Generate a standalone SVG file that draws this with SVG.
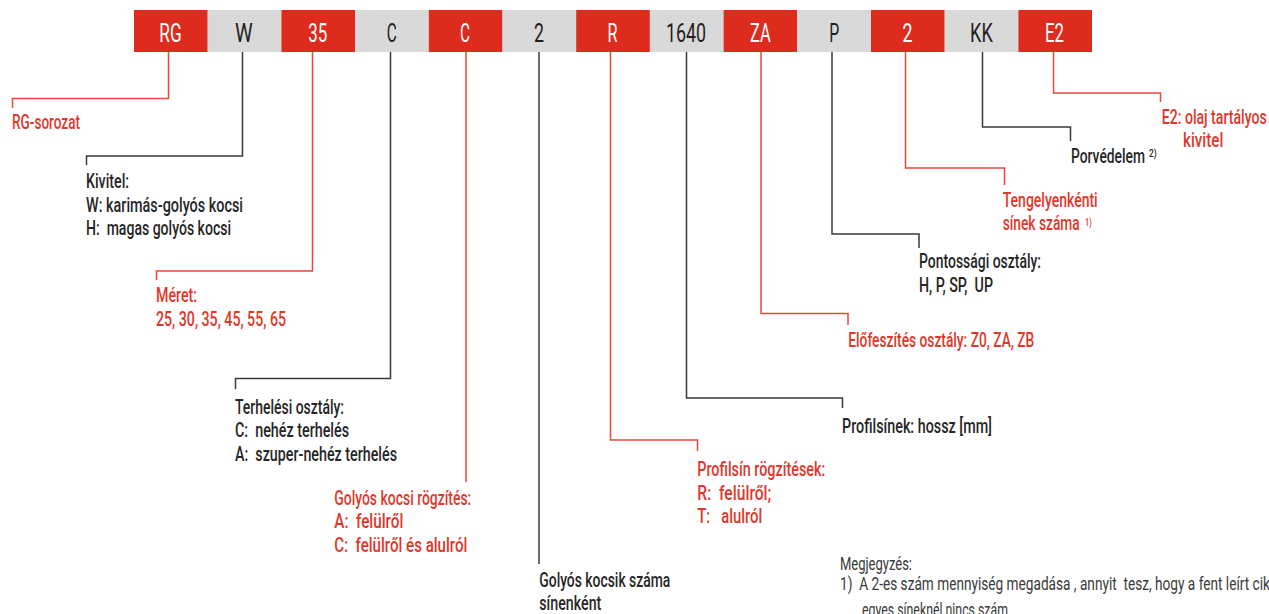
<svg xmlns="http://www.w3.org/2000/svg" width="1269" height="614" viewBox="0 0 1269 614">
  <style>
    text { font-family: Roboto, "DejaVu Sans Condensed", "Liberation Sans", sans-serif; white-space: pre; }
    .code { font-size: 25px; text-anchor: middle; font-weight: 400; }
    .code-r { fill: #ffffff; }
    .code-g { fill: #1e1e1e; }
    .box-r { fill: #dd2c1e; }
    .box-g { fill: #d9d9d9; }
    .lbl { font-size: 20px; font-weight: 500; }
    .dark { fill: #262626; }
    .red { fill: #e0372b; }
    .sup { font-size: 11.5px; font-weight: 500; }
    .note { font-size: 18px; font-weight: 400; fill: #3a3a3a; }
    .ln-d { fill: none; stroke: #3a3a3a; stroke-width: 1.5; }
    .ln-r { fill: none; stroke: #e8473c; stroke-width: 1.5; }
  </style>

  <!-- code bar -->
  <g id="code-bar">
    <rect class="box-r" x="134" y="10" width="73.7" height="42"/>
    <rect class="box-g" x="207.7" y="10" width="73.7" height="42"/>
    <rect class="box-r" x="281.4" y="10" width="73.7" height="42"/>
    <rect class="box-g" x="355.1" y="10" width="73.7" height="42"/>
    <rect class="box-r" x="428.8" y="10" width="73.7" height="42"/>
    <rect class="box-g" x="502.5" y="10" width="73.7" height="42"/>
    <rect class="box-r" x="576.2" y="10" width="73.7" height="42"/>
    <rect class="box-g" x="649.9" y="10" width="73.7" height="42"/>
    <rect class="box-r" x="723.6" y="10" width="73.7" height="42"/>
    <rect class="box-g" x="797.3" y="10" width="73.7" height="42"/>
    <rect class="box-r" x="871" y="10" width="73.7" height="42"/>
    <rect class="box-g" x="944.7" y="10" width="73.7" height="42"/>
    <rect class="box-r" x="1018.4" y="10" width="73.6" height="42"/>
    <text class="code code-r" x="170.5" y="42" textLength="22.3" lengthAdjust="spacingAndGlyphs">RG</text>
    <text class="code code-g" x="243.9" y="42" textLength="17.7" lengthAdjust="spacingAndGlyphs">W</text>
    <text class="code code-r" x="317.8" y="42" textLength="19" lengthAdjust="spacingAndGlyphs">35</text>
    <text class="code code-g" x="391.7" y="42" textLength="10" lengthAdjust="spacingAndGlyphs">C</text>
    <text class="code code-r" x="465" y="42" textLength="10" lengthAdjust="spacingAndGlyphs">C</text>
    <text class="code code-g" x="539" y="42" textLength="10" lengthAdjust="spacingAndGlyphs">2</text>
    <text class="code code-r" x="612.5" y="42" textLength="10" lengthAdjust="spacingAndGlyphs">R</text>
    <text class="code code-g" x="686" y="42" textLength="40" lengthAdjust="spacingAndGlyphs">1640</text>
    <text class="code code-r" x="760.4" y="42" textLength="20.7" lengthAdjust="spacingAndGlyphs">ZA</text>
    <text class="code code-g" x="834.3" y="42" textLength="10" lengthAdjust="spacingAndGlyphs">P</text>
    <text class="code code-r" x="907.5" y="42" textLength="10" lengthAdjust="spacingAndGlyphs">2</text>
    <text class="code code-g" x="981.4" y="42" textLength="22.7" lengthAdjust="spacingAndGlyphs">KK</text>
    <text class="code code-r" x="1054.5" y="42" textLength="19" lengthAdjust="spacingAndGlyphs">E2</text>
  </g>

  <!-- leader lines from each code field -->
  <g id="connectors">
    <path class="ln-r" d="M168.5 52 V98.5 H12.5 V108"/>
    <path class="ln-d" d="M242.5 52 V156 H86.5 V165"/>
    <path class="ln-r" d="M312.5 52 V271 H156.5 V280"/>
    <path class="ln-d" d="M390.5 52 V378.5 H235.5 V389"/>
    <path class="ln-r" d="M466 52 V482"/>
    <path class="ln-d" d="M539 52 V564"/>
    <path class="ln-r" d="M610.5 52 V440 H697.5 V451"/>
    <path class="ln-d" d="M686.5 52 V398 H842.5 V408"/>
    <path class="ln-r" d="M761 52 V313.5 H848 V325"/>
    <path class="ln-d" d="M832 52 V234 H919 V248"/>
    <path class="ln-r" d="M905.5 52 V168 H1004.5 V185"/>
    <path class="ln-d" d="M982.5 52 V127 H1070.5 V141"/>
    <path class="ln-r" d="M1053.5 52 V93 H1160.5 V102"/>
  </g>

  <g id="series">
    <text class="lbl red" x="12" y="129" textLength="68" lengthAdjust="spacingAndGlyphs">RG-sorozat</text>
  </g>

  <g id="design">
    <text class="lbl dark" x="86" y="188.3" textLength="43" lengthAdjust="spacingAndGlyphs">Kivitel:</text>
    <text class="lbl dark" x="86" y="211.7" textLength="157" lengthAdjust="spacingAndGlyphs">W: karimás-golyós kocsi</text>
    <text class="lbl dark" x="86" y="235" textLength="145" lengthAdjust="spacingAndGlyphs">H:  magas golyós kocsi</text>
  </g>

  <g id="size">
    <text class="lbl red" x="156" y="302.3" textLength="41" lengthAdjust="spacingAndGlyphs">Méret:</text>
    <text class="lbl red" x="156" y="325.7" textLength="130" lengthAdjust="spacingAndGlyphs">25, 30, 35, 45, 55, 65</text>
  </g>

  <g id="load-class">
    <text class="lbl dark" x="235" y="414" textLength="109" lengthAdjust="spacingAndGlyphs">Terhelési osztály:</text>
    <text class="lbl dark" x="235" y="437.3" textLength="114" lengthAdjust="spacingAndGlyphs">C:  nehéz terhelés</text>
    <text class="lbl dark" x="235" y="461" textLength="162" lengthAdjust="spacingAndGlyphs">A:  szuper-nehéz terhelés</text>
  </g>

  <g id="block-mounting">
    <text class="lbl red" x="334.3" y="505" textLength="137" lengthAdjust="spacingAndGlyphs">Golyós kocsi rögzítés:</text>
    <text class="lbl red" x="334.3" y="528.3" textLength="69" lengthAdjust="spacingAndGlyphs">A:  felülről</text>
    <text class="lbl red" x="334.3" y="551.7" textLength="133" lengthAdjust="spacingAndGlyphs">C:  felülről és alulról</text>
  </g>

  <g id="blocks-per-rail">
    <text class="lbl dark" x="539.3" y="586.7" textLength="131" lengthAdjust="spacingAndGlyphs">Golyós kocsik száma</text>
    <text class="lbl dark" x="539.3" y="610" textLength="62" lengthAdjust="spacingAndGlyphs">sínenként</text>
  </g>

  <g id="rail-mounting">
    <text class="lbl red" x="697.3" y="476" textLength="128" lengthAdjust="spacingAndGlyphs">Profilsín rögzítések:</text>
    <text class="lbl red" x="697.3" y="499.7" textLength="74" lengthAdjust="spacingAndGlyphs">R:  felülről;</text>
    <text class="lbl red" x="697.3" y="523" textLength="65" lengthAdjust="spacingAndGlyphs">T:   alulról</text>
  </g>

  <g id="rail-length">
    <text class="lbl dark" x="842" y="433" textLength="150" lengthAdjust="spacingAndGlyphs">Profilsínek: hossz [mm]</text>
  </g>

  <g id="preload">
    <text class="lbl red" x="848.3" y="346.7" textLength="186" lengthAdjust="spacingAndGlyphs">Előfeszítés osztály: Z0, ZA, ZB</text>
  </g>

  <g id="accuracy">
    <text class="lbl dark" x="919" y="268.3" textLength="122" lengthAdjust="spacingAndGlyphs">Pontossági osztály:</text>
    <text class="lbl dark" x="919" y="291.7" textLength="74" lengthAdjust="spacingAndGlyphs">H, P, SP,  UP</text>
  </g>

  <g id="rails-per-axis">
    <text class="lbl red" x="1002.7" y="206.7" textLength="95" lengthAdjust="spacingAndGlyphs">Tengelyenkénti</text>
    <text class="lbl red" x="1002.7" y="230" textLength="77" lengthAdjust="spacingAndGlyphs">sínek száma</text>
    <text class="sup red" x="1085" y="225.5" textLength="6.7" lengthAdjust="spacingAndGlyphs">1)</text>
  </g>

  <g id="dust-protection">
    <text class="lbl dark" x="1071" y="162.7" textLength="74" lengthAdjust="spacingAndGlyphs">Porvédelem</text>
    <text class="sup dark" x="1149" y="157.3" textLength="7.7" lengthAdjust="spacingAndGlyphs">2)</text>
  </g>

  <g id="oil-tank">
    <text class="lbl red" x="1161.7" y="124" textLength="105" lengthAdjust="spacingAndGlyphs">E2: olaj tartályos</text>
    <text class="lbl red" x="1183" y="147.3" textLength="40.3" lengthAdjust="spacingAndGlyphs">kivitel</text>
  </g>

  <g id="notes">
    <text class="note" x="840" y="570" textLength="72" lengthAdjust="spacingAndGlyphs">Megjegyzés:</text>
    <text class="note" x="840" y="589.5" textLength="430" lengthAdjust="spacingAndGlyphs">1)  A 2-es szám mennyiség megadása , annyit  tesz, hogy a fent leírt cik</text>
    <text class="note" x="862" y="615.5" textLength="146" lengthAdjust="spacingAndGlyphs">egyes síneknél nincs szám</text>
  </g>
</svg>
